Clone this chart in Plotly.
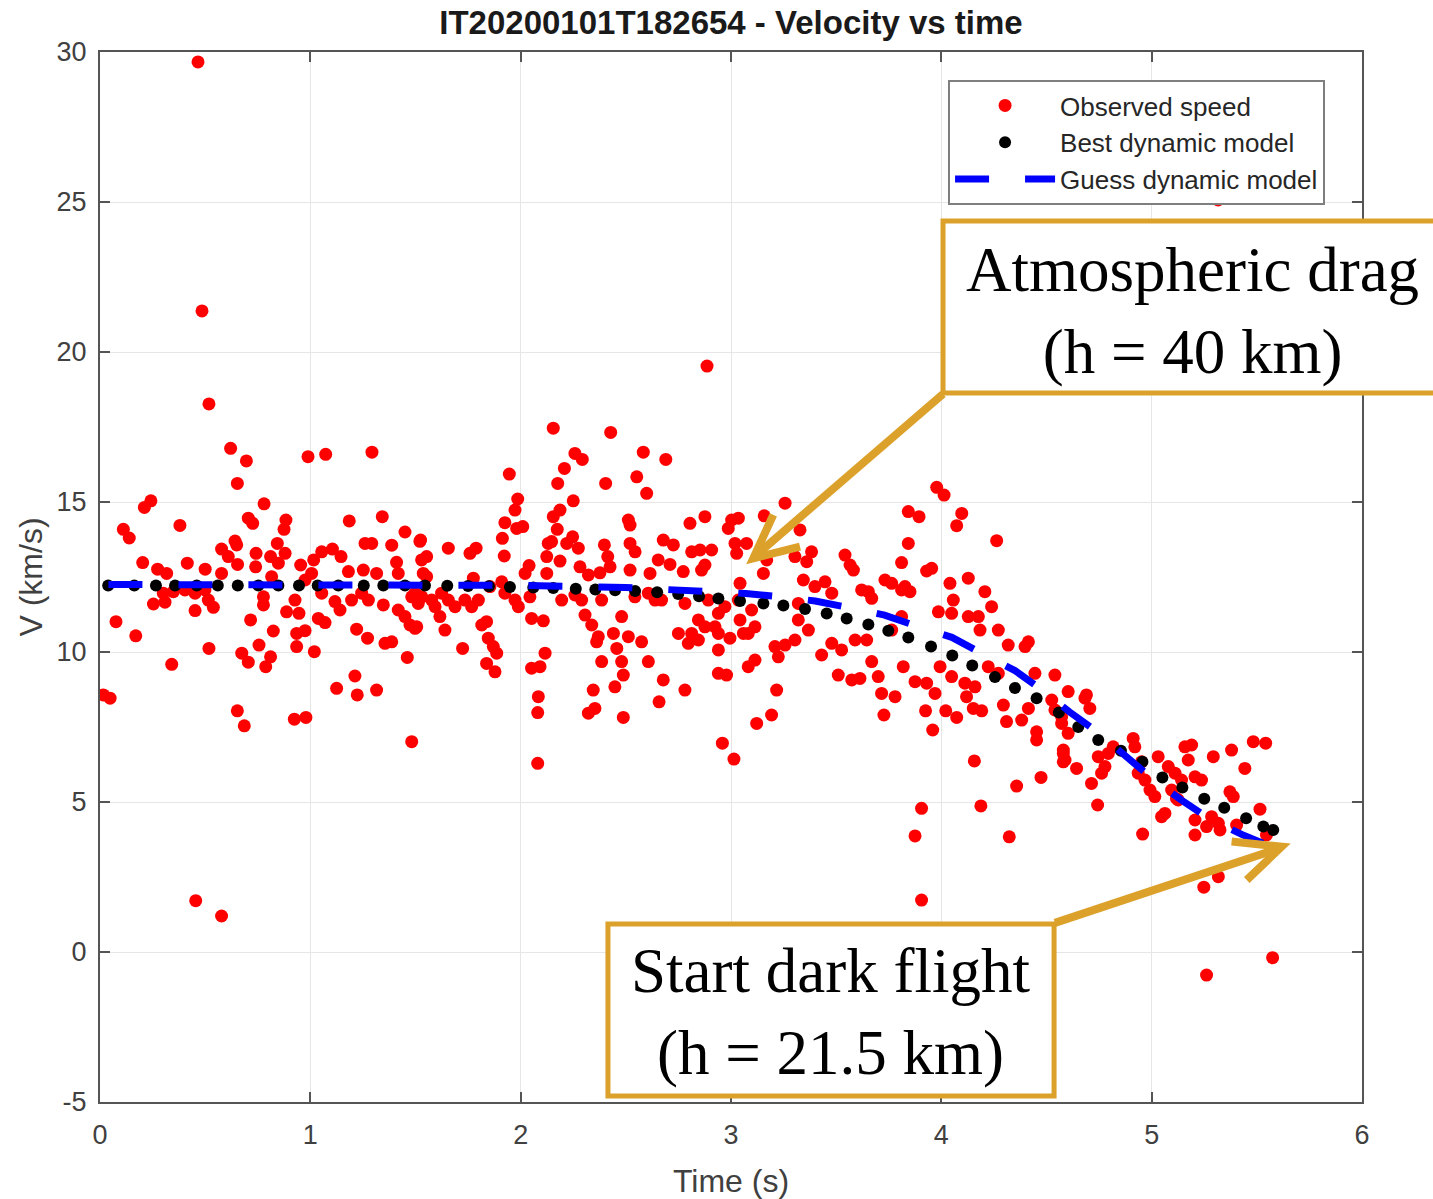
import plotly.graph_objects as go

# ---------------- data ----------------
obs_t = [
    0.466, 0.485, 2.886, 5.316,
    0.518, 0.621, 0.696, 0.653, 0.989, 1.073, 1.293, 0.211, 0.242, 0.111, 0.139, 0.380,
    0.780, 0.705, 0.726, 0.884, 0.875, 1.185, 1.342, 1.450, 1.521, 0.642, 0.650, 0.843,
    0.578, 0.203, 0.274, 0.317, 0.415, 0.500, 0.578, 0.610, 0.654, 0.742, 0.740, 0.811,
    0.848, 0.880, 0.816, 0.954, 1.016, 1.054, 1.105, 1.146, 1.006, 0.975, 1.181, 1.260,
    1.292, 1.387, 1.410, 1.418, 1.252, 1.315, 1.529, 1.537, 0.076, 0.170, 0.254, 0.309,
    0.301, 0.349, 0.452, 0.515, 0.539, 0.499, 0.518, 0.341, 0.674, 0.705, 0.716, 0.756,
    0.788, 0.811, 0.824, 0.777, 0.777, 0.887, 0.927, 0.946, 0.935, 0.975, 0.935, 1.019,
    1.038, 1.070, 1.054, 1.117, 1.141, 1.196, 1.244, 1.276, 1.220, 1.272, 1.125, 1.212,
    1.223, 1.315, 1.347, 1.418, 1.450, 1.474, 1.498, 1.355, 1.387, 1.461, 1.482, 1.513,
    0.016, 0.048, 0.404, 0.452,
    0.653, 0.686, 0.924, 0.979, 1.482, 0.455, 0.578,
    2.155, 2.428, 2.583, 2.690, 2.258, 2.293, 2.208, 2.176, 2.404, 2.552, 2.599, 1.946,
    1.986, 1.973, 1.925, 1.981, 2.010, 1.913, 1.922, 2.250, 2.187, 2.155, 2.174, 2.131,
    2.147, 2.124, 2.187, 2.247, 2.274, 2.219, 2.282, 2.124, 2.040, 2.021, 2.512, 2.520,
    2.398, 2.414, 2.425, 2.377, 2.322, 2.520, 2.544, 2.520, 2.615, 2.678, 2.726, 2.654,
    2.710, 2.773, 2.805, 2.876, 2.813, 2.853, 2.908, 2.876, 2.860, 2.987, 3.003, 3.035,
    3.019, 3.027, 1.524, 1.553, 1.553, 1.498, 1.656, 1.759, 1.788, 1.775, 1.854, 1.910,
    1.530, 1.577, 1.624, 1.593, 1.656, 1.688, 1.506, 1.616, 1.640, 1.735, 1.767, 1.799,
    1.815, 1.838, 1.846, 1.870, 1.886, 1.838, 1.878, 1.724, 1.925, 1.973, 1.989, 2.044,
    2.052, 2.108, 2.116, 2.052, 2.092, 2.084, 2.195, 2.258, 2.290, 2.306, 2.338, 2.385,
    2.369, 2.361, 2.441, 2.457, 2.480, 2.512, 2.575, 2.385, 2.480, 2.488, 2.448, 2.345,
    2.607, 2.678, 2.543, 2.639, 2.670, 2.607, 2.781, 2.845, 2.876, 2.813, 2.750, 2.797,
    2.845, 2.940, 2.924, 2.940, 2.995, 2.940, 2.781, 2.940, 2.979, 2.892, 2.971, 3.035,
    3.043, 3.059,
    2.081, 2.081, 2.322, 2.353, 2.488, 2.658, 2.959, 3.014,
    3.978, 4.013, 3.843, 3.894, 4.097, 4.073, 4.263, 3.257, 3.158, 3.328, 3.843, 3.811,
    3.930, 3.954, 3.074, 3.170, 3.154, 3.043, 3.383, 3.360, 3.304, 3.542, 3.566, 3.582,
    3.344, 3.399, 3.447, 3.479, 3.621, 3.669, 3.653, 3.732, 3.764, 3.811, 3.851, 4.041,
    4.057, 4.049, 4.128, 4.207, 4.239, 3.986, 4.128, 4.176, 4.184, 4.271, 4.318, 4.398,
    4.414, 4.540, 3.098, 3.114, 3.082, 3.209, 3.257, 3.304, 3.225, 3.114, 3.082, 3.217,
    3.320, 3.320, 3.368, 3.431, 3.479, 3.526, 3.510, 3.574, 3.613, 3.590, 3.645, 3.669,
    3.700, 3.827, 3.811, 3.764, 3.819, 3.875, 3.930, 3.970, 3.994, 4.049, 4.112, 4.160,
    4.223, 4.271, 4.445, 3.780, 3.716,
    3.193, 3.122, 3.727, 3.925, 3.959, 4.021, 4.073, 4.120, 4.152, 4.192, 4.157, 4.358,
    4.474, 4.188, 4.323, 3.906, 3.875, 3.906, 4.295, 4.310, 4.382, 4.414, 4.453, 4.453,
    4.572, 4.580, 4.580, 4.540, 4.525,
    4.603, 4.683, 4.706, 4.572, 4.603, 4.580, 4.588, 4.643, 4.714, 4.743, 4.746, 4.778,
    4.762, 4.817, 4.794, 4.912, 4.920, 4.952, 4.936, 4.968, 5.031, 5.079, 4.992, 5.015,
    5.047, 5.063, 4.957, 5.158, 5.190, 5.174, 5.293, 5.206, 5.237, 5.111, 5.142, 5.095,
    5.118, 5.126, 5.380, 5.443, 5.483, 5.542, 5.372, 5.388, 5.206, 5.206, 5.261, 5.285,
    5.317, 5.325, 5.404, 5.515, 5.546, 5.317, 5.248, 5.261, 5.575,
    4.690,
]
obs_v = [
    29.67, 21.37, 19.53, 25.07,
    18.27, 16.79, 16.37, 15.62, 16.51, 16.59, 16.66, 14.82, 15.04, 14.09, 13.80, 14.22,
    14.94, 14.46, 14.29, 14.40, 14.09, 14.37, 14.51, 14.00, 13.69, 13.70, 13.57, 13.62,
    13.43, 12.98, 12.76, 12.62, 12.96, 12.76, 12.62, 13.18, 12.92, 13.29, 12.84, 13.18,
    12.96, 13.29, 12.51, 12.90, 13.07, 13.34, 13.43, 13.18, 12.62, 12.40, 12.68, 13.62,
    13.62, 13.56, 12.99, 12.62, 12.73, 12.62, 13.07, 12.62, 11.01, 10.54, 11.60, 11.66,
    11.96, 12.01, 11.38, 11.73, 11.49, 12.07, 10.12, 9.59, 9.96, 9.66, 11.07, 10.23,
    9.51, 9.84, 10.70, 11.84, 11.57, 11.34, 11.73, 11.29, 10.62, 10.71, 10.18, 10.01,
    11.12, 10.98, 11.96, 11.68, 11.40, 11.73, 11.96, 11.73, 10.76, 10.46, 8.79, 9.20,
    8.57, 8.73, 11.57, 11.40, 11.18, 10.90, 10.79, 10.29, 10.34, 9.82, 11.84, 11.62,
    8.57, 8.46, 12.07, 11.96,
    8.04, 7.54, 7.76, 7.82, 7.01, 1.71, 1.20,
    17.46, 17.32, 16.66, 16.42, 16.62, 16.42, 16.12, 15.62, 15.62, 15.84, 15.29, 15.93,
    15.10, 14.73, 14.31, 14.12, 14.18, 13.79, 13.20, 15.04, 14.73, 14.51, 14.09, 13.62,
    13.68, 13.18, 13.03, 13.84, 13.46, 13.62, 12.84, 12.62, 12.88, 12.62, 14.40, 14.23,
    13.57, 13.18, 12.84, 12.64, 12.57, 13.62, 13.34, 12.73, 12.62, 13.73, 13.57, 13.07,
    12.92, 12.68, 14.29, 14.51, 13.34, 13.40, 13.40, 12.90, 12.73, 14.12, 14.40, 14.46,
    13.62, 13.29, 13.73, 13.18, 12.51, 11.96, 13.46, 13.29, 13.46, 12.46, 12.18, 12.34,
    11.84, 11.73, 11.96, 11.51, 11.73, 11.51, 10.84, 11.18, 10.73, 11.73, 11.51, 11.73,
    10.90, 11.01, 10.46, 10.18, 9.96, 9.62, 9.34, 10.12, 11.96, 11.73, 11.51, 11.84,
    11.12, 11.04, 9.96, 9.46, 9.51, 8.51, 11.73, 11.90, 11.73, 11.23, 10.90, 11.73,
    10.51, 10.34, 10.62, 10.12, 11.18, 10.51, 10.34, 9.68, 9.68, 9.23, 8.84, 8.73,
    9.68, 9.07, 11.84, 11.73, 11.73, 11.96, 11.62, 11.07, 10.84, 10.62, 10.62, 10.29,
    10.40, 11.29, 10.84, 10.62, 10.46, 10.07, 8.73, 9.29, 9.23, 11.73, 11.51, 11.73,
    11.07, 10.62,
    7.98, 6.29, 7.96, 8.12, 7.82, 8.34, 6.96, 6.43,
    15.49, 15.23, 14.68, 14.51, 14.62, 14.21, 13.71, 14.96, 14.54, 14.07, 13.62, 12.98,
    12.70, 12.79, 13.62, 13.07, 12.62, 12.29, 13.34, 13.01, 13.18, 13.23, 12.90, 12.73,
    12.40, 12.18, 12.34, 11.96, 12.07, 11.79, 12.01, 12.40, 12.29, 12.07, 12.01, 12.29,
    11.73, 11.29, 12.46, 12.01, 11.51, 11.34, 11.18, 11.18, 10.73, 10.73, 10.23, 10.18,
    10.34, 9.23, 11.40, 10.84, 10.62, 10.18, 10.23, 10.40, 9.84, 9.73, 9.51, 8.73,
    11.62, 11.07, 10.73, 9.90, 10.29, 10.07, 9.23, 9.07, 9.12, 10.40, 10.40, 9.68,
    9.18, 12.18, 11.18, 10.73, 9.51, 9.01, 8.96, 8.62, 9.51, 9.18, 8.96, 8.84,
    9.51, 9.29, 9.29, 8.51, 8.62,
    7.90, 7.62, 7.90, 8.04, 7.40, 8.04, 7.82, 8.51, 8.12, 8.04, 6.37, 5.53,
    5.82, 4.87, 3.84, 4.79, 3.87, 1.73, 8.23, 7.68, 7.73, 8.12, 7.34, 7.07,
    7.84, 6.62, 6.34, 8.07, 8.40,
    8.68, 8.46, 8.12, 7.62, 7.29, 6.73, 6.40, 6.12, 5.62, 4.90, 6.51, 6.18,
    5.96, 6.84, 6.62, 7.12, 6.84, 6.34, 5.96, 5.73, 6.51, 6.18, 5.40, 5.18,
    4.51, 4.62, 3.93, 6.84, 6.90, 6.40, 6.51, 5.84, 5.73, 5.96, 5.73, 5.40,
    5.12, 5.07, 6.73, 6.12, 7.01, 6.96, 5.34, 5.18, 4.40, 3.90, 4.18, 4.51,
    4.29, 4.07, 4.23, 4.76, 3.90, 2.51, 2.16, -0.77, -0.19,
    8.57,
]

best_t = [0.039, 0.163, 0.266, 0.357, 0.460, 0.560, 0.655, 0.753, 0.848, 0.946,
          1.035, 1.133, 1.254, 1.347, 1.450, 1.545, 1.651, 1.750, 1.849, 1.949,
          2.060, 2.155, 2.262, 2.355, 2.449, 2.544, 2.649, 2.749, 2.848, 2.940,
          3.043, 3.154, 3.249, 3.352, 3.455, 3.550, 3.653, 3.748, 3.843, 3.951,
          4.052, 4.147, 4.255, 4.350, 4.453, 4.559, 4.651, 4.746, 4.854, 4.956,
          5.051, 5.146, 5.250, 5.345, 5.449, 5.531, 5.578]
best_v = [12.22, 12.22, 12.22, 12.22, 12.22, 12.22, 12.22, 12.22, 12.22, 12.22,
          12.22, 12.22, 12.22, 12.22, 12.22, 12.22, 12.21, 12.20, 12.19, 12.17,
          12.15, 12.13, 12.11, 12.08, 12.06, 12.03, 11.99, 11.93, 11.86, 11.78,
          11.70, 11.62, 11.55, 11.43, 11.28, 11.12, 10.92, 10.71, 10.48, 10.18,
          9.88, 9.55, 9.17, 8.80, 8.46, 7.98, 7.50, 7.07, 6.71, 6.34,
          5.82, 5.48, 5.11, 4.81, 4.46, 4.18, 4.07]

guess_t = [0.04, 1.0, 2.0, 2.5, 2.8, 3.07, 3.22, 3.40, 3.56, 3.73, 3.88, 4.05,
           4.19, 4.35, 4.48, 4.61, 4.75, 4.87, 5.00, 5.14, 5.27, 5.44, 5.53]
guess_v = [12.25, 12.25, 12.22, 12.15, 12.05, 11.95, 11.85, 11.70, 11.48, 11.23,
           10.87, 10.49, 9.96, 9.38, 8.73, 8.00, 7.29, 6.57, 5.79, 5.07, 4.46,
           3.88, 3.62]

x_range = [0, 6]
y_range = [-5, 30]
x_ticks = [0, 1, 2, 3, 4, 5, 6]
x_labels = ["0", "1", "2", "3", "4", "5", "6"]
y_ticks = [-5, 0, 5, 10, 15, 20, 25, 30]
y_labels = ["-5", "0", "5", "10", "15", "20", "25", "30"]

GOLD = "#DBA12B"
SANS = "Liberation Sans, Arial, sans-serif"
SERIF = "Liberation Serif, Times New Roman, serif"


def px(t):
    return (t - x_range[0]) / (x_range[1] - x_range[0])


def py(v):
    return (v - y_range[0]) / (y_range[1] - y_range[0])


fig = go.Figure()
fig.add_trace(go.Scatter(x=obs_t, y=obs_v, mode="markers", name="Observed speed",
                         marker=dict(color="#FF0000", size=13, line=dict(width=0))))
fig.add_trace(go.Scatter(x=best_t, y=best_v, mode="markers", name="Best dynamic model",
                         marker=dict(color="#000000", size=12, line=dict(width=0))))
fig.add_trace(go.Scatter(x=guess_t, y=guess_v, mode="lines", name="Guess dynamic model",
                         line=dict(color="#0000FF", width=7, dash="34px,36px")))

axis_common = dict(
    showline=True, linecolor="#555555", linewidth=2, mirror="ticks",
    ticks="inside", ticklen=10, tickwidth=2, tickcolor="#555555",
    showgrid=True, gridcolor="#E6E6E6", gridwidth=1, zeroline=False,
    automargin=False,
    tickfont=dict(family=SANS, size=27, color="#404040"),
)

fig.update_layout(
    width=1433, height=1199,
    margin=dict(l=100, r=71, t=52, b=97),
    paper_bgcolor="white", plot_bgcolor="white",
    title=dict(text="<b>IT20200101T182654 - Velocity vs time</b>",
               font=dict(family=SANS, size=33, color="#1a1a1a"),
               x=0.5101, xanchor="center", xref="container",
               y=1 - 22 / 1199, yanchor="middle", yref="container"),
    xaxis=dict(range=x_range, tickvals=x_ticks, ticktext=x_labels,
               ticklabelstandoff=8, **axis_common,
               title=dict(text="Time (s)", standoff=22,
                          font=dict(family=SANS, size=32, color="#404040"))),
    yaxis=dict(range=y_range, tickvals=y_ticks, ticktext=y_labels,
               ticklabelstandoff=6, **axis_common,
               title=dict(text="V (km/s)", standoff=4,
                          font=dict(family=SANS, size=32, color="#404040"))),
    legend=dict(x=px(4.032), y=py(30.0) - 28 / 1050, xanchor="left", yanchor="top",
                bgcolor="white", bordercolor="#7F7F7F", borderwidth=2,
                font=dict(family=SANS, size=26, color="#262626"),
                itemwidth=100),
    showlegend=True,
)

shapes = []
# box 1: Atmospheric drag
shapes.append(dict(type="rect", xref="paper", yref="paper",
                   x0=px(4.008), x1=px(6.45), y0=py(18.63), y1=py(24.37),
                   fillcolor="white", line=dict(color=GOLD, width=5), layer="above"))
# box 2: Start dark flight
shapes.append(dict(type="rect", xref="paper", yref="paper",
                   x0=px(2.415), x1=px(4.536), y0=py(-4.80), y1=py(0.93),
                   fillcolor="white", line=dict(color=GOLD, width=5), layer="above"))


def path(points):
    return "M " + " L ".join(f"{px(a):.5f},{py(b):.5f}" for a, b in points)


# arrow 1 shaft + head
shapes.append(dict(type="path", xref="paper", yref="paper", layer="above",
                   path=path([(4.008, 18.60), (3.115, 13.20)]),
                   line=dict(color=GOLD, width=8)))
shapes.append(dict(type="path", xref="paper", yref="paper", layer="above",
                   path=path([(3.201, 14.57), (3.106, 13.12), (3.328, 13.51)]),
                   line=dict(color=GOLD, width=8)))
# arrow 2 shaft + head
shapes.append(dict(type="path", xref="paper", yref="paper", layer="above",
                   path=path([(4.540, 0.97), (5.605, 3.45)]),
                   line=dict(color=GOLD, width=8)))
shapes.append(dict(type="path", xref="paper", yref="paper", layer="above",
                   path=path([(5.380, 3.68), (5.618, 3.51), (5.452, 2.40)]),
                   line=dict(color=GOLD, width=8)))
fig.update_layout(shapes=shapes)

fig.add_annotation(xref="paper", yref="paper", x=px(5.192), y=py(21.37),
                   text="Atmospheric drag<br>(h = 40 km)", showarrow=False,
                   font=dict(family=SERIF, size=63, color="black"),
                   xanchor="center", yanchor="middle", align="center")
fig.add_annotation(xref="paper", yref="paper", x=px(3.471), y=py(-2.0),
                   text="Start dark flight<br>(h = 21.5 km)", showarrow=False,
                   font=dict(family=SERIF, size=63, color="black"),
                   xanchor="center", yanchor="middle", align="center")

fig.write_html("out.html")
